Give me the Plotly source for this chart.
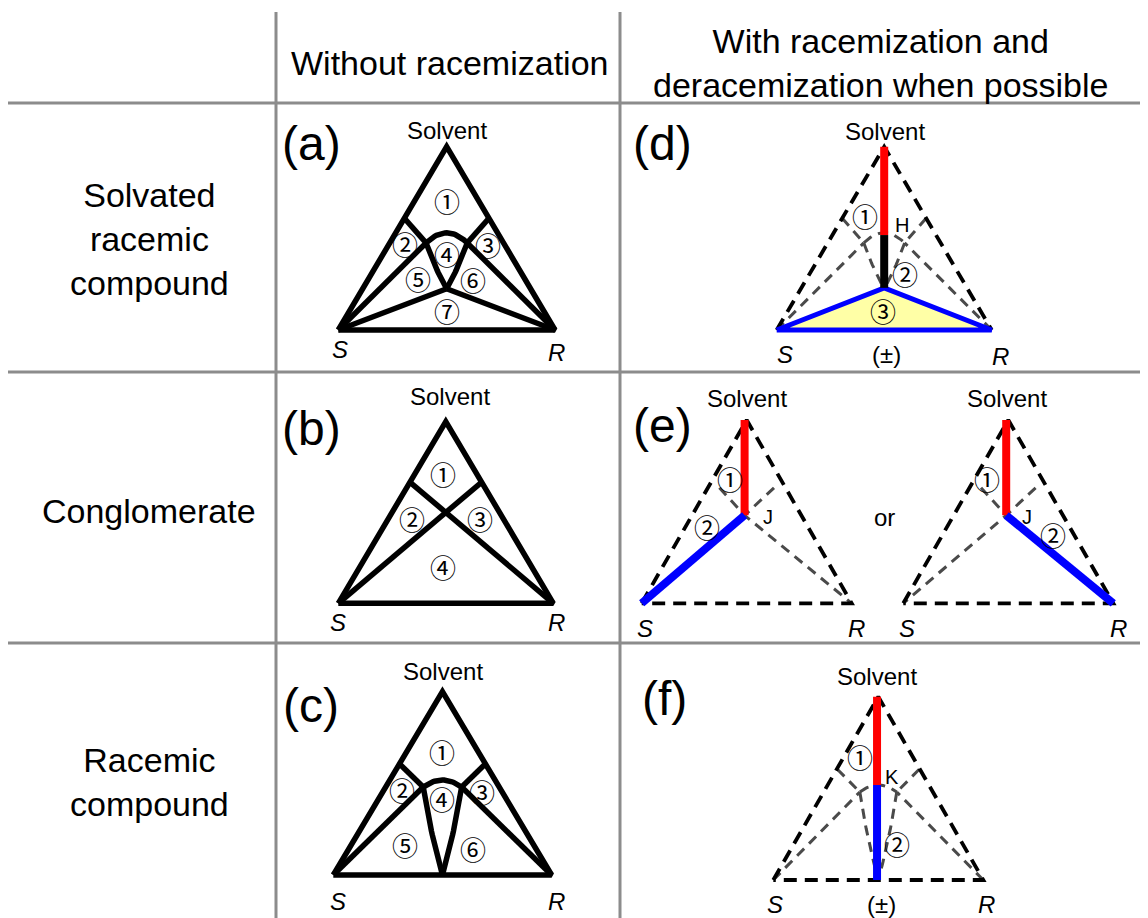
import plotly.graph_objects as go

W, H = 1148, 918
PAD = 8  # page body margin

# ---- table text and grid
col_headers = ["Without racemization", "With racemization and<br>deracemization when possible"]
col_header_x = [449, 880]
col_header_y = [63, 63]
row_labels = ["Solvated<br>racemic<br>compound", "Conglomerate", "Racemic<br>compound"]
row_label_y = [239, 511, 782]
grid_v = [276, 620]
grid_h = [103, 372, 643]

# triangle frames: x of S corner, y of base line, width, height (pixels)
frames = {
    "a": (338.3, 330.0, 216.7, 183.3),
    "b": (338.3, 603.3, 215.0, 181.7),
    "c": (333.3, 875.0, 218.3, 183.3),
    "d": (776.7, 330.0, 215.0, 183.3),
    "e1": (641.7, 603.3, 210.0, 183.3),
    "e2": (903.3, 603.3, 210.0, 183.3),
    "f": (773.3, 880.0, 210.0, 183.3),
}
panel_letters = ["(a)", "(b)", "(c)", "(d)", "(e)", "(f)"]
panel_letter_x = [311, 311, 311, 662, 662, 664]
panel_letter_y = [143, 428, 705, 143, 425, 698]

# node coordinates in triangle space: S=(0,0), R=(1,0), top=(0.5,1)
S, R, T = (0.0, 0.0), (1.0, 0.0), (0.5, 1.0)
# solvated racemic compound
sa_pl, sa_pr = (0.305, 0.61), (0.695, 0.61)
sa_al, sa_ar = (0.405, 0.475), (0.595, 0.475)
sa_arc_ctl = (0.5, 0.585)
sa_c = (0.5, 0.225)
sa_vl_ctl, sa_vr_ctl = (0.445, 0.34), (0.555, 0.34)
# conglomerate
cg_pl, cg_pr = (0.33, 0.67), (0.67, 0.67)
cg_j = (0.49, 0.48)
e_pl, e_pr = (0.37, 0.63), (0.63, 0.63)
# racemic compound
rc_pl, rc_pr = (0.305, 0.604), (0.695, 0.604)
rc_al, rc_ar = (0.412, 0.48), (0.588, 0.48)
rc_arc_ctl = (0.5, 0.556)
rc_b = (0.5, 0.0)
rc_vl_ctl, rc_vr_ctl = (0.443, 0.24), (0.557, 0.24)
# deracemization paths
d_h, d_c = (0.5, 0.518), (0.5, 0.23)
f_top, f_k, f_b = (0.494, 1.0), (0.494, 0.518), (0.494, 0.0)
e_top = (0.49, 1.0)

# labels inside panels: (panel, text, u, v, kind)
labels = [
    ("a", "Solvent", 0.5, 1.091, "name"), ("a", "<i>S</i>", 0.008, -0.109, "corner"),
    ("a", "<i>R</i>", 1.008, -0.125, "corner"),
    ("a", "①", 0.5, 0.709, "num"), ("a", "②", 0.308, 0.473, "num"), ("a", "③", 0.692, 0.464, "num"),
    ("a", "④", 0.5, 0.418, "num"), ("a", "⑤", 0.369, 0.282, "num"), ("a", "⑥", 0.623, 0.273, "num"),
    ("a", "⑦", 0.5, 0.109, "num"),
    ("b", "Solvent", 0.52, 1.137, "name"), ("b", "<i>S</i>", 0.0, -0.108, "corner"),
    ("b", "<i>R</i>", 1.016, -0.108, "corner"),
    ("b", "①", 0.488, 0.715, "num"), ("b", "②", 0.341, 0.468, "num"), ("b", "③", 0.659, 0.468, "num"),
    ("b", "④", 0.488, 0.201, "num"),
    ("c", "Solvent", 0.504, 1.109, "name"), ("c", "<i>S</i>", 0.023, -0.146, "corner"),
    ("c", "<i>R</i>", 1.023, -0.146, "corner"),
    ("c", "①", 0.5, 0.673, "num"), ("c", "②", 0.313, 0.464, "num"), ("c", "③", 0.68, 0.454, "num"),
    ("c", "④", 0.5, 0.415, "num"), ("c", "⑤", 0.328, 0.164, "num"), ("c", "⑥", 0.641, 0.146, "num"),
    ("d", "Solvent", 0.504, 1.082, "name"), ("d", "<i>S</i>", 0.039, -0.136, "corner"),
    ("d", "<i>R</i>", 1.039, -0.146, "corner"), ("d", "(±)", 0.512, -0.136, "corner"),
    ("d", "①", 0.41, 0.627, "num"), ("d", "H", 0.581, 0.573, "point"), ("d", "②", 0.597, 0.309, "num"),
    ("d", "③", 0.496, 0.109, "num"),
    ("e1", "Solvent", 0.5, 1.118, "name"), ("e1", "<i>S</i>", 0.016, -0.136, "corner"),
    ("e1", "<i>R</i>", 1.024, -0.136, "corner"),
    ("e1", "①", 0.42, 0.68, "num"), ("e1", "②", 0.31, 0.418, "num"), ("e1", "J", 0.603, 0.472, "point"),
    ("e2", "Solvent", 0.492, 1.118, "name"), ("e2", "<i>S</i>", 0.016, -0.136, "corner"),
    ("e2", "<i>R</i>", 1.024, -0.136, "corner"),
    ("e2", "①", 0.398, 0.682, "num"), ("e2", "J", 0.588, 0.472, "point"), ("e2", "②", 0.714, 0.373, "num"),
    ("f", "Solvent", 0.492, 1.109, "name"), ("f", "<i>S</i>", 0.008, -0.134, "corner"),
    ("f", "<i>R</i>", 1.016, -0.134, "corner"), ("f", "(±)", 0.513, -0.134, "corner"),
    ("f", "①", 0.413, 0.673, "num"), ("f", "K", 0.564, 0.564, "point"), ("f", "②", 0.587, 0.2, "num"),
]
or_x, or_y = 884, 517

styles = {
    "solid": dict(color="black", width=5.5),
    "dash": dict(color="black", width=3.8, dash="13px,8px"),
    "grey": dict(color="#4a4a4a", width=3, dash="10px,7px"),
    "red": dict(color="#ff0000", width=8),
    "blue": dict(color="#0000ff", width=8),
    "ink": dict(color="black", width=8),
    "blue_thin": dict(color="#0000ff", width=5),
    "grid": dict(color="#8c8c8c", width=3),
}


def bez(p0, c, p1, n=24):
    pts = []
    for i in range(n + 1):
        t = i / n
        pts.append(((1 - t) ** 2 * p0[0] + 2 * (1 - t) * t * c[0] + t ** 2 * p1[0],
                    (1 - t) ** 2 * p0[1] + 2 * (1 - t) * t * c[1] + t ** 2 * p1[1]))
    return pts


def solvated_inner():
    return [[sa_pl, sa_al], [sa_pr, sa_ar], bez(sa_al, sa_arc_ctl, sa_ar),
            bez(sa_al, sa_vl_ctl, sa_c), bez(sa_ar, sa_vr_ctl, sa_c),
            [S, sa_al], [R, sa_ar], [S, sa_c], [R, sa_c]]


def racemic_inner():
    return [[rc_pl, rc_al], [rc_pr, rc_ar], bez(rc_al, rc_arc_ctl, rc_ar),
            bez(rc_al, rc_vl_ctl, rc_b), bez(rc_ar, rc_vr_ctl, rc_b),
            [S, rc_al], [R, rc_ar]]


segments = []  # (panel, points, style)
for seg in solvated_inner():
    segments.append(("a", seg, "solid"))
segments.append(("a", [S, R, T, S], "solid"))
segments += [("b", [cg_pl, R], "solid"), ("b", [cg_pr, S], "solid"), ("b", [S, R, T, S], "solid")]
for seg in racemic_inner():
    segments.append(("c", seg, "solid"))
segments.append(("c", [S, R, T, S], "solid"))

# (d)
for seg in solvated_inner():
    segments.append(("d", seg, "grey"))
segments += [("d", [S, T, R], "dash"), ("d", [S, d_c, R, S], "fill"),
             ("d", [T, d_h], "red"), ("d", [d_h, d_c], "ink")]
# (e)
for p in ["e1", "e2"]:
    segments += [(p, [e_pl, cg_j, R], "grey"), (p, [e_pr, cg_j, S], "grey"),
                 (p, [S, T, R, S], "dash"), (p, [e_top, cg_j], "red")]
segments += [("e1", [cg_j, S], "blue"), ("e2", [cg_j, R], "blue")]
# (f)
for seg in racemic_inner():
    segments.append(("f", seg, "grey"))
segments += [("f", [S, T, R, S], "dash"), ("f", [f_top, f_k], "red"), ("f", [f_k, f_b], "blue")]


def to_px(panel, pts):
    x0, y0, w, h = frames[panel]
    return [x0 + u * w for u, v in pts], [y0 - v * h for u, v in pts]


fig = go.Figure()

for x in grid_v:
    fig.add_trace(go.Scatter(x=[x, x], y=[12, H], mode="lines", line=styles["grid"], hoverinfo="skip"))
for y in grid_h:
    fig.add_trace(go.Scatter(x=[8, W], y=[y, y], mode="lines", line=styles["grid"], hoverinfo="skip"))

for panel, pts, st in segments:
    xs, ys = to_px(panel, pts)
    if st == "fill":
        fig.add_trace(go.Scatter(x=xs, y=ys, mode="lines", fill="toself", fillcolor="#ffffa6",
                                 line=styles["blue_thin"], hoverinfo="skip"))
    else:
        fig.add_trace(go.Scatter(x=xs, y=ys, mode="lines", line=styles[st], hoverinfo="skip"))

ann = []
base = "Liberation Sans, Arial, sans-serif"
for t, x, y in zip(col_headers, col_header_x, col_header_y):
    ann.append(dict(x=x, y=y, text=t, font=dict(size=34, family=base, color="black")))
for t, y in zip(row_labels, row_label_y):
    ann.append(dict(x=149, y=y, text=t, font=dict(size=34, family=base, color="black")))
for t, x, y in zip(panel_letters, panel_letter_x, panel_letter_y):
    ann.append(dict(x=x, y=y, text=t, font=dict(size=48, family=base, color="black")))
ann.append(dict(x=or_x, y=or_y, text="or", font=dict(size=24, family=base, color="black")))

kinds = {
    "name": dict(size=24, family=base, color="black"),
    "corner": dict(size=24, family=base, color="black"),
    "point": dict(size=20, family=base, color="black"),
    "num": dict(size=26, family="Noto Sans CJK JP, DejaVu Sans", color="black"),
}
for panel, t, u, v, kind in labels:
    xs, ys = to_px(panel, [(u, v)])
    ann.append(dict(x=xs[0], y=ys[0], text=t, font=kinds[kind]))

for a in ann:
    a.update(xref="x", yref="y", showarrow=False, xanchor="center", yanchor="middle")

fig.update_layout(
    width=W - PAD, height=H - PAD, showlegend=False,
    margin=dict(l=0, r=0, t=0, b=0),
    plot_bgcolor="white", paper_bgcolor="white",
    annotations=ann,
)
fig.update_xaxes(range=[PAD, W], visible=False, fixedrange=True)
fig.update_yaxes(range=[H, PAD], visible=False, fixedrange=True)

fig.write_html("out.html")
